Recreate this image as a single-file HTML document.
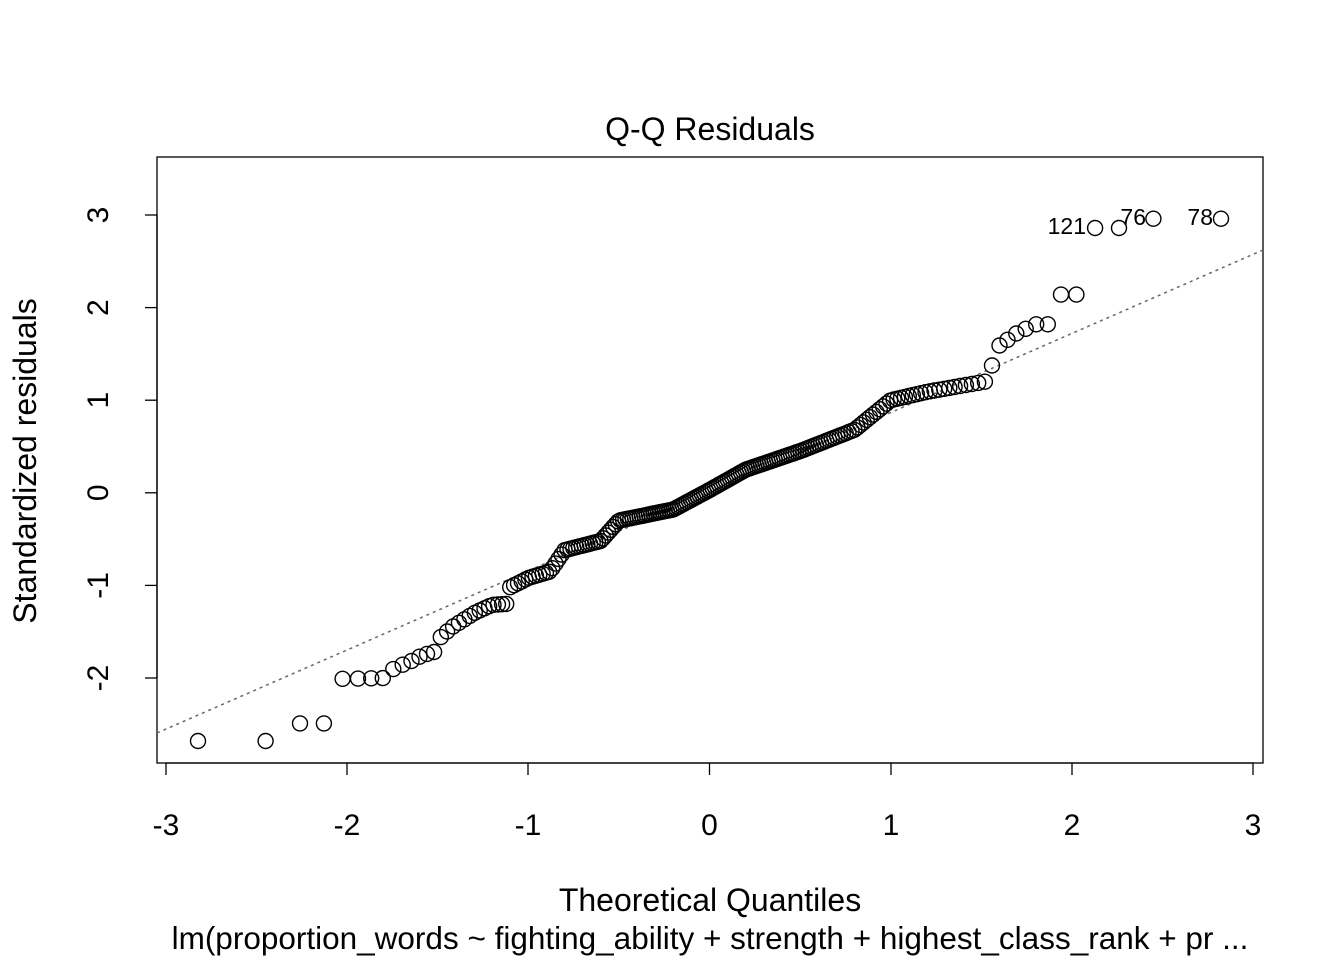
<!DOCTYPE html>
<html><head><meta charset="utf-8"><style>
html,body{margin:0;padding:0;background:#fff;}
svg text{font-family:"Liberation Sans",Arial,sans-serif;fill:#000;}
</style></head><body>
<svg id="s" xmlns="http://www.w3.org/2000/svg" width="1344" height="960" viewBox="0 0 1344 960">
<rect x="0" y="0" width="1344" height="960" fill="#fff"/>
<rect x="157" y="157" width="1106" height="606" fill="none" stroke="#000" stroke-width="1.3"/>
<line x1="157" y1="733" x2="1263" y2="250" stroke="#666" stroke-width="1.5" stroke-dasharray="3,4"/>
<line x1="166" y1="763" x2="1253" y2="763" stroke="#000" stroke-width="1.3"/>
<g stroke="#000" stroke-width="1.3">
<line x1="166" y1="763" x2="166" y2="775"/><line x1="347" y1="763" x2="347" y2="775"/>
<line x1="528" y1="763" x2="528" y2="775"/><line x1="709.5" y1="763" x2="709.5" y2="775"/>
<line x1="891" y1="763" x2="891" y2="775"/><line x1="1072" y1="763" x2="1072" y2="775"/>
<line x1="1253" y1="763" x2="1253" y2="775"/>
</g>
<g font-size="30" text-anchor="middle">
<text x="166" y="835">-3</text><text x="347" y="835">-2</text><text x="528" y="835">-1</text>
<text x="709.5" y="835">0</text><text x="891" y="835">1</text><text x="1072" y="835">2</text><text x="1253" y="835">3</text>
</g>
<line x1="157" y1="215" x2="157" y2="678" stroke="#000" stroke-width="1.3"/>
<g stroke="#000" stroke-width="1.3">
<line x1="145" y1="215" x2="157" y2="215"/><line x1="145" y1="307.6" x2="157" y2="307.6"/>
<line x1="145" y1="400.2" x2="157" y2="400.2"/><line x1="145" y1="492.8" x2="157" y2="492.8"/>
<line x1="145" y1="585.4" x2="157" y2="585.4"/><line x1="145" y1="678" x2="157" y2="678"/>
</g>
<g font-size="30" text-anchor="middle">
<text transform="translate(108,215) rotate(-90)">3</text>
<text transform="translate(108,307.6) rotate(-90)">2</text>
<text transform="translate(108,400.2) rotate(-90)">1</text>
<text transform="translate(108,492.8) rotate(-90)">0</text>
<text transform="translate(108,585.4) rotate(-90)">-1</text>
<text transform="translate(108,678) rotate(-90)">-2</text>
</g>
<text x="710" y="140" font-size="32" text-anchor="middle">Q-Q Residuals</text>
<text x="710" y="911" font-size="32" text-anchor="middle">Theoretical Quantiles</text>
<text x="710" y="949" font-size="31.5" text-anchor="middle">lm(proportion_words ~ fighting_ability + strength + highest_class_rank + pr ...</text>
<text transform="translate(36,461) rotate(-90)" font-size="32" text-anchor="middle">Standardized residuals</text>
<g font-size="23" text-anchor="end">
<text x="1086" y="234">121</text><text x="1146" y="225">76</text><text x="1213" y="225">78</text>
</g>
<g id="pts" fill="none" stroke="#000" stroke-width="1.4"></g>
</svg>
<script>
function qnorm(p){var a=[-39.69683028665376,220.9460984245205,-275.9285104469687,138.357751867269,-30.66479806614716,2.506628277459239],b=[-54.47609879822406,161.5858368580409,-155.6989798598866,66.80131188771972,-13.28068155288572],c=[-0.007784894002430293,-0.3223964580411365,-2.400758277161838,-2.549732539343734,4.374664141464968,2.938163982698783],d=[0.007784695709041462,0.3224671290700398,2.445134137142996,3.754408661907416];var q,r;if(p<0.02425){q=Math.sqrt(-2*Math.log(p));return(((((c[0]*q+c[1])*q+c[2])*q+c[3])*q+c[4])*q+c[5])/((((d[0]*q+d[1])*q+d[2])*q+d[3])*q+1);}if(p>1-0.02425){q=Math.sqrt(-2*Math.log(1-p));return-(((((c[0]*q+c[1])*q+c[2])*q+c[3])*q+c[4])*q+c[5])/((((d[0]*q+d[1])*q+d[2])*q+d[3])*q+1);}q=p-0.5;r=q*q;return(((((a[0]*r+a[1])*r+a[2])*r+a[3])*r+a[4])*r+a[5])*q/(((((b[0]*r+b[1])*r+b[2])*r+b[3])*r+b[4])*r+1);}
var K=[[-3,-2.68],[-2.3,-2.68],[-2.28,-2.49],[-2.1,-2.49],[-2.05,-2.01],[-1.76,-2.0],[-1.74,-1.87],[-1.67,-1.85],[-1.64,-1.81],[-1.58,-1.75],[-1.52,-1.72],[-1.49,-1.57],[-1.42,-1.45],[-1.3,-1.3],[-1.2,-1.21],[-1.12,-1.2],[-1.1,-1.02],[-1.0,-0.92],[-0.88,-0.85],[-0.8,-0.62],[-0.6,-0.52],[-0.5,-0.3],[-0.2,-0.18],[0,0.03],[0.2,0.25],[0.5,0.45],[0.8,0.68],[0.9,0.84],[1.0,1.0],[1.2,1.09],[1.52,1.2],[1.56,1.38],[1.6,1.59],[1.7,1.73],[1.8,1.82],[1.9,1.82],[1.92,2.14],[2.05,2.14],[2.1,2.86],[2.3,2.86],[2.4,2.96],[3,2.96]];
function f(x){for(var i=1;i<K.length;i++){if(x<=K[i][0]){var a=K[i-1],b=K[i];return a[1]+(b[1]-a[1])*(x-a[0])/(b[0]-a[0]);}}return 2.96;}
var n=210,g=document.getElementById('pts'),h='';
for(var i=1;i<=n;i++){var q=qnorm((i-0.5)/n);var r=f(q);var X=709.5+q*181.2,Y=492.8-r*92.6;h+='<circle cx="'+X.toFixed(1)+'" cy="'+Y.toFixed(1)+'" r="7.5"/>';}
g.innerHTML=h;
</script>
</body></html>
